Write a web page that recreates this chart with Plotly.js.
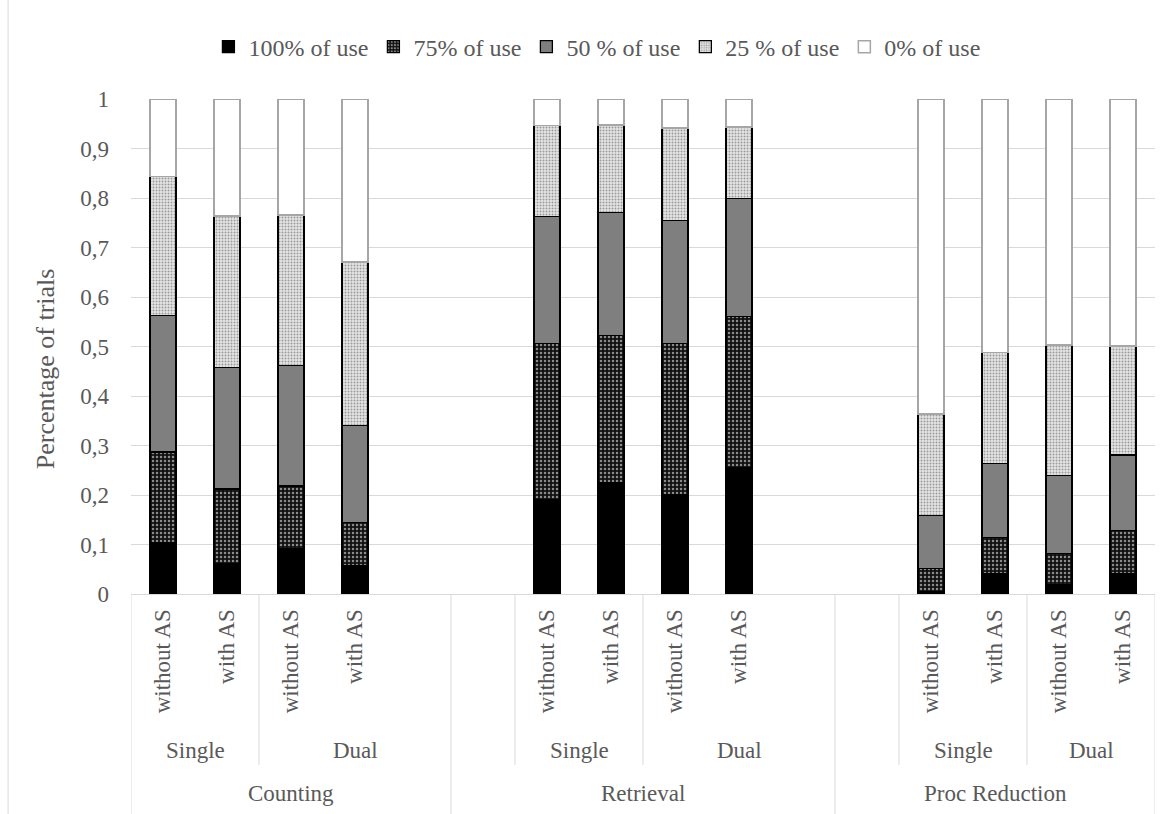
<!DOCTYPE html>
<html>
<head>
<meta charset="utf-8">
<script src="https://cdn.plot.ly/plotly-3.0.1.min.js"></script>
<style>
  html, body { margin: 0; padding: 0; background: #ffffff; }
  #chart { width: 1173px; height: 814px; }
</style>
</head>
<body>
<div id="chart"></div>
<script>
// ---------------- DATA ----------------
const tasks = ['Counting', 'Retrieval', 'Proc Reduction'];
const conditions = ['Single', 'Dual'];
const assistance = ['without AS', 'with AS'];
const seriesNames = ['100% of use', '75% of use', '50 % of use', '25 % of use', '0% of use'];

// order: Counting (Single w/o, Single with, Dual w/o, Dual with), Retrieval (...), Proc Reduction (...)
const use100 = [0.104, 0.062, 0.091, 0.057,  0.190, 0.225, 0.200, 0.255,  0.004, 0.042, 0.018, 0.041];
const use75  = [0.183, 0.150, 0.127, 0.087,  0.316, 0.297, 0.306, 0.305,  0.048, 0.072, 0.064, 0.088];
const use50  = [0.276, 0.245, 0.243, 0.196,  0.256, 0.249, 0.248, 0.239,  0.106, 0.149, 0.158, 0.152];
const use25  = [0.280, 0.307, 0.305, 0.331,  0.184, 0.176, 0.187, 0.144,  0.206, 0.225, 0.263, 0.220];
const use0   = [0.157, 0.236, 0.234, 0.329,  0.054, 0.053, 0.059, 0.057,  0.636, 0.512, 0.497, 0.499];

const yTickVals = [0, 0.1, 0.2, 0.3, 0.4, 0.5, 0.6, 0.7, 0.8, 0.9, 1];

// Category-axis structure (Excel-style, with empty spacer categories):
// per task, the second-level segments and how many category slots each spans
const taskSegments = [
  [['Single', 2], ['Dual', 3]],
  [['', 1], ['Single', 2], ['Dual', 3]],
  [['', 1], ['Single', 2], ['Dual', 2]]
];

// ---------------- BUILD POSITIONS ----------------
const xPos = [];
const tickText = [];
const annotations = [];
const shapes = [];
const textColor = '#595959';
const lineColor = '#d9d9d9';
const FONT = 'Liberation Serif';

const yMid = -0.345;
const yFull = -0.445;

let slot = 0;
shapes.push({type: 'line', xref: 'x', yref: 'paper', x0: -0.5, x1: -0.5, y0: 0, y1: yFull,
             line: {color: lineColor, width: 1}});
taskSegments.forEach((segs, t) => {
  const taskStart = slot;
  segs.forEach(([name, n], si) => {
    const segStart = slot;
    if (name !== '') {
      for (let k = 0; k < assistance.length; k++) {
        xPos.push(slot + k);
        tickText.push(assistance[k]);
      }
      annotations.push({
        text: name, xref: 'x', yref: 'paper', x: segStart - 0.5 + n / 2, y: -0.316,
        showarrow: false, xanchor: 'center', yanchor: 'middle',
        font: {family: FONT, size: 23, color: textColor}
      });
    }
    slot += n;
    if (si < segs.length - 1) {
      shapes.push({type: 'line', xref: 'x', yref: 'paper', x0: slot - 0.5, x1: slot - 0.5,
                   y0: 0, y1: yMid, line: {color: lineColor, width: 1}});
    }
  });
  annotations.push({
    text: tasks[t], xref: 'x', yref: 'paper', x: taskStart - 0.5 + (slot - taskStart) / 2, y: -0.403,
    showarrow: false, xanchor: 'center', yanchor: 'middle',
    font: {family: FONT, size: 23, color: textColor}
  });
  shapes.push({type: 'line', xref: 'x', yref: 'paper', x0: slot - 0.5, x1: slot - 0.5,
               y0: 0, y1: yFull, line: {color: lineColor, width: 1}});
});
const totalSlots = slot;

// chart-area left border
shapes.push({type: 'line', xref: 'paper', yref: 'paper', x0: -0.12, x1: -0.12, y0: -0.45, y1: 1.2,
             line: {color: lineColor, width: 1}});

// y axis title
annotations.push({
  text: 'Percentage of trials', xref: 'paper', yref: 'paper', x: -0.084, y: 0.456,
  textangle: -90, showarrow: false, xanchor: 'center', yanchor: 'middle',
  font: {family: FONT, size: 26, color: textColor}
});

// ---------------- TRACES ----------------
const seriesValues = [use100, use75, use50, use25, use0];
const styles = [
  {color: '#000000', line: {color: '#000000', width: 1.3}},
  {color: '#1a1a1a', line: {color: '#000000', width: 1.3},
   pattern: {shape: '.', bgcolor: '#111111', fgcolor: '#8c8c8c', size: 4, solidity: 0.3}},
  {color: '#7f7f7f', line: {color: '#000000', width: 1.3}},
  {color: '#d0d0d0', line: {color: '#000000', width: 1.3},
   pattern: {shape: '.', bgcolor: '#e6e6e6', fgcolor: '#9a9a9a', size: 3, solidity: 0.35}},
  {color: '#ffffff', line: {color: '#a6a6a6', width: 1.5}}
];

const traces = seriesValues.map((vals, i) => ({
  type: 'bar',
  name: seriesNames[i],
  x: xPos,
  y: vals,
  width: 0.41,
  marker: styles[i],
  hoverinfo: 'skip'
}));

// ---------------- LAYOUT ----------------
const layout = {
  width: 1173,
  height: 814,
  autosize: false,
  paper_bgcolor: '#ffffff',
  plot_bgcolor: '#ffffff',
  margin: {l: 131, r: 18, t: 99, b: 220, autoexpand: false},
  barmode: 'stack',
  separators: ',.',
  font: {family: FONT, color: textColor, size: 22},
  showlegend: true,
  legend: {
    orientation: 'h', x: 0.455, xanchor: 'center',
    y: 1.105, yanchor: 'middle', traceorder: 'normal',
    font: {family: FONT, size: 24, color: textColor},
    itemwidth: 30, bgcolor: 'rgba(0,0,0,0)'
  },
  xaxis: {
    range: [-0.5, totalSlots - 0.5],
    tickmode: 'array',
    tickvals: xPos,
    ticktext: tickText,
    tickangle: -90,
    ticks: '',
    ticklabelstandoff: 5,
    tickfont: {family: FONT, size: 23, color: textColor},
    showgrid: false,
    zeroline: false,
    showline: true,
    linecolor: lineColor,
    linewidth: 1,
    automargin: false,
    fixedrange: true
  },
  yaxis: {
    range: [0, 1],
    tickmode: 'array',
    tickvals: yTickVals,
    ticks: '',
    ticklabelstandoff: 21,
    tickfont: {family: FONT, size: 23, color: textColor},
    showgrid: true,
    gridcolor: lineColor,
    gridwidth: 1,
    zeroline: false,
    showline: false,
    automargin: false,
    fixedrange: true
  },
  annotations: annotations,
  shapes: shapes
};

Plotly.newPlot('chart', traces, layout, {displayModeBar: false, staticPlot: true});
</script>
</body>
</html>
